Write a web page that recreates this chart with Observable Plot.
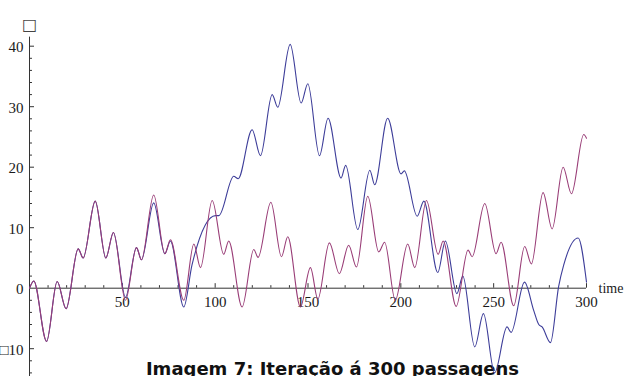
<!DOCTYPE html>
<html>
<head>
<meta charset="utf-8">
<script src="https://cdn.jsdelivr.net/npm/d3@7"></script>
<script src="https://cdn.jsdelivr.net/npm/@observablehq/plot@0.6"></script>
<style>
  html, body { margin: 0; padding: 0; background: #fff; }
  #chart { width: 624px; height: 376px; overflow: hidden; }
</style>
</head>
<body>
<div id="chart"></div>
<script>
// Series 1 (blue): turning points and shoulders of the trajectory
const blueTime = [0, 2.3, 9.2, 14.9, 19.7, 26.2, 28.9, 35.4, 41.1, 45.2, 51.7, 57.6, 60.3, 66.9, 72.9, 75.9,
  83.1, 87.5, 100.2, 102, 110, 112.4, 119.9, 124.4, 130.7, 133.7, 140.4, 146.3, 149.9, 156.2, 160.8,
  167.8, 170.3, 176.8, 183.3, 185.9, 192.9, 200.1, 201.9, 208.8, 212.4, 219.9, 224, 230.2, 233.4,
  239.8, 244.5, 250.5, 257.2, 259.4, 266.6, 271.6, 274.3, 276.1, 280.6, 285, 287.7, 295.5, 300];
const blueValue = [0, 1.2, -8.8, 1.1, -3.4, 6.5, 5.0, 14.4, 5.0, 9.2, -1.5, 6.7, 4.7, 14.1, 5.7, 7.8,
  -3.1, 3.8, 12.0, 12.0, 18.5, 18.1, 26.2, 21.9, 32.0, 29.9, 40.3, 30.6, 33.8, 21.9, 28.1,
  18.2, 20.3, 9.7, 19.5, 17.1, 28.1, 18.9, 19.4, 11.9, 14.4, 2.6, 7.8, -0.9, 2.0,
  -9.7, -4.2, -14.0, -6.4, -7.3, 1.0, -3.7, -6.0, -6.4, -9.0, 0.3, 3.8, 8.3, 1.0];

// Series 2 (purple)
const purpleTime = [0, 2.3, 9.2, 14.9, 19.7, 26.2, 28.9, 35.4, 41.1, 45.2, 51.7, 57.6, 60.3, 66.9, 72.9, 75.9,
  83.1, 88.5, 92.1, 98.4, 104.6, 107.3, 114.5, 120.8, 123.1, 130, 135.7, 139.1, 145.9, 151.3,
  155.3, 161.5, 166.9, 171.9, 176.1, 182.2, 188.1, 191.3, 197, 203.7, 207.5, 213.8, 220.1, 222.8,
  229.8, 236.2, 238.4, 245.2, 251.3, 254, 260.8, 266.7, 270.3, 276.6, 281.5, 287.4, 291.9, 298.5, 300];
const purpleValue = [0, 1.2, -8.8, 1.1, -3.4, 6.5, 5.0, 14.4, 5.0, 9.2, -2.0, 6.7, 4.7, 15.4, 5.7, 8.0,
  -2.0, 7.3, 3.4, 14.5, 5.6, 7.8, -3.1, 6.4, 5.1, 14.2, 5.2, 8.5, -3.1, 3.4,
  -1.8, 7.5, 2.4, 7.1, 3.5, 15.2, 6.0, 7.6, -2.0, 7.3, 3.4, 14.5, 5.6, 7.8,
  -3.0, 6.3, 5.2, 14.0, 5.7, 7.6, -2.9, 6.9, 4.0, 15.8, 9.8, 20.0, 15.6, 25.4, 24.8];

// Axis ticks and labels
const xTickLabels = [50, 100, 150, 200, 250, 300];
const yTickLabels = [-10, 0, 10, 20, 30, 40];
const xTicks = d3.range(10, 301, 10);
const yTicks = d3.range(-14, 41, 2).filter(d => d !== 0);
const xAxisLabel = "time";
const yAxisLabel = "\u25A1\uFE0E";
const minusSign = "\u25A1\uFE0E";
const caption = "Imagem 7: Iteração á 300 passagens";

const blue = blueTime.map((t, i) => ({t, v: blueValue[i]}));
const purple = purpleTime.map((t, i) => ({t, v: purpleValue[i]}));

const serif = {fontFamily: "Liberation Serif, DejaVu Sans", fontSize: 15, fill: "#1a1a1a"};

const chart = Plot.plot({
  width: 624,
  height: 376,
  margin: 0,
  x: {domain: [0, 300], range: [29, 586], axis: null},
  y: {domain: [0, 40], range: [287.7, 45.7], axis: null},
  style: {background: "#fff", overflow: "visible"},
  marks: [
    Plot.text([caption], {frameAnchor: "bottom", dx: 20, dy: -2, lineAnchor: "bottom",
      fontFamily: "DejaVu Sans", fontWeight: "bold", fontSize: 18, fill: "#111"}),
    // axes crossing at the origin
    Plot.ruleY([0], {x1: 0, x2: 300, stroke: "#333", strokeWidth: 1}),
    Plot.ruleX([0], {y1: -14.6, y2: 41.5, stroke: "#333", strokeWidth: 1}),
    Plot.ruleX(xTicks, {x: d => d, y1: 0, y2: d => d % 50 === 0 ? 0.75 : 0.42, stroke: "#333"}),
    Plot.ruleY(yTicks, {y: d => d, x1: 0, x2: d => d % 10 === 0 ? 2.7 : 1.6, stroke: "#333"}),
    Plot.text(xTickLabels, {x: d => d, y: 0, dy: 14, ...serif}),
    Plot.text(yTickLabels, {x: 0, y: d => d, dx: -6, dy: 1, textAnchor: "end",
      text: d => d < 0 ? minusSign + (-d) : String(d), ...serif}),
    Plot.text([xAxisLabel], {x: 300, y: 0, dx: 12, textAnchor: "start", ...serif, fontSize: 14}),
    Plot.text([yAxisLabel], {x: 0, frameAnchor: "top", dy: 18, fontFamily: "DejaVu Sans", fontSize: 16, fill: "#444"}),
    // trajectories
    Plot.line(blue, {x: "t", y: "v", curve: "monotone-x", stroke: "#3d3d99", strokeWidth: 1.1}),
    Plot.line(purple, {x: "t", y: "v", curve: "monotone-x", stroke: "#993d77", strokeWidth: 1.1})
  ]
});

document.getElementById("chart").appendChild(chart);
</script>
</body>
</html>
